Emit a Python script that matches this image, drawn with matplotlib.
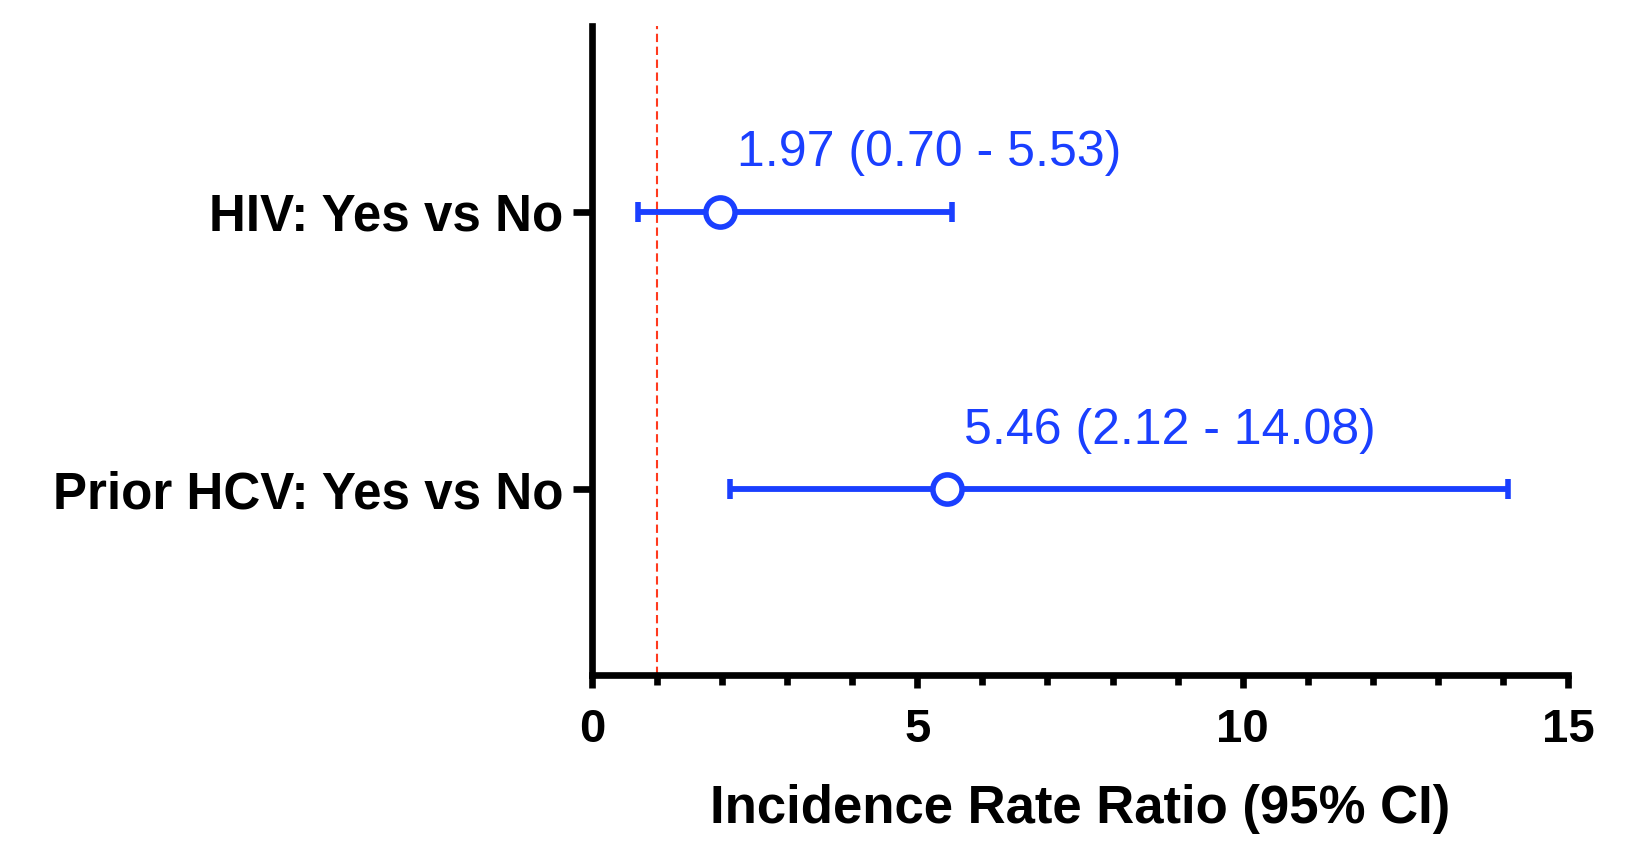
import numpy as np
import matplotlib
matplotlib.use("Agg")
import matplotlib.pyplot as plt
from matplotlib.ticker import MultipleLocator

# Data
labels = ["HIV: Yes vs No", "Prior HCV: Yes vs No"]
irr = [1.97, 5.46]
ci_low = [0.70, 2.12]
ci_high = [5.53, 14.08]
ypos = [2, 1]

blue = "#1a3fff"
plt.rcParams['font.family'] = ['Liberation Sans', 'DejaVu Sans']

fig = plt.figure(figsize=(16.36, 8.63), dpi=100)
ax = fig.add_axes([0.3619, 0.2178, 0.9584 - 0.3619, 0.9699 - 0.2178])

# reference line at IRR = 1
ax.axvline(1, color="#ff3a1e", lw=1.5, dashes=(4, 2.2), zorder=1)

irr_a = np.array(irr)
err = [irr_a - np.array(ci_low), np.array(ci_high) - irr_a]
ax.errorbar(irr, ypos, xerr=err, fmt="o", color=blue, ecolor=blue,
            elinewidth=4.2, capsize=7, capthick=4,
            markersize=21, markerfacecolor="white", markeredgecolor=blue,
            markeredgewidth=4, zorder=3)

# value labels above each row
for x, y, lo, hi in zip(irr, ypos, ci_low, ci_high):
    ax.annotate(f"{x:.2f} ({lo:.2f} - {hi:.2f})", xy=(x, y),
                xytext=(12, 42), textcoords="offset points",
                ha="left", va="center", fontsize=36, color=blue)

ax.set_xlim(0, 15)
ax.set_ylim(0.33, 2.67)
ax.xaxis.set_major_locator(MultipleLocator(5))
ax.xaxis.set_minor_locator(MultipleLocator(1))
ax.set_yticks(ypos)
ax.set_yticklabels(labels, fontsize=36.8, fontweight="bold")
for lab in ax.get_xticklabels():
    lab.set_fontsize(34)
    lab.set_fontweight("bold")

ax.spines["top"].set_visible(False)
ax.spines["right"].set_visible(False)
ax.spines["left"].set_linewidth(4.8)
ax.spines["bottom"].set_linewidth(4.8)

ax.tick_params(axis="x", which="major", length=9.5, width=4.8, pad=14)
ax.tick_params(axis="x", which="minor", length=7, width=4.8)
ax.tick_params(axis="y", which="major", length=13.5, width=4.8, pad=7)

ax.set_xlabel("Incidence Rate Ratio (95% CI)", fontsize=38,
              fontweight="bold", labelpad=23)

fig.savefig("out.png", dpi=100)
